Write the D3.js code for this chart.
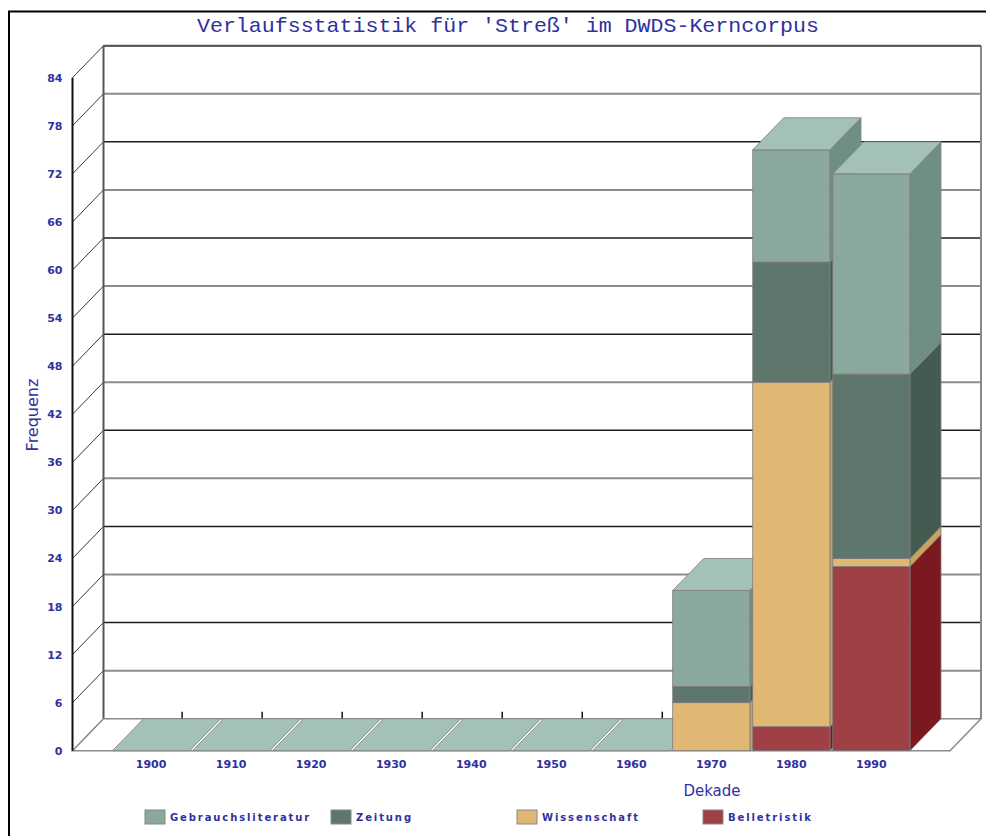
<!DOCTYPE html>
<html>
<head>
<meta charset="utf-8">
<script src="https://cdn.jsdelivr.net/npm/d3@7/dist/d3.min.js"></script>
<style>
  html, body { margin: 0; padding: 0; background: #fff; }
  svg { display: block; }
</style>
</head>
<body>
<svg id="chart" width="986" height="836"></svg>
<script>
// Decades on the x axis
const decades = ["1900", "1910", "1920", "1930", "1940", "1950", "1960", "1970", "1980", "1990"];

// Frequencies per text genre, stacked bottom to top
const belletristik       = [0, 0, 0, 0, 0, 0, 0, 0, 3, 23];
const wissenschaft       = [0, 0, 0, 0, 0, 0, 0, 6, 43, 1];
const zeitung            = [0, 0, 0, 0, 0, 0, 0, 2, 15, 23];
const gebrauchsliteratur = [0, 0, 0, 0, 0, 0, 0, 12, 14, 25];

// Y axis tick labels
const yTicks = [0, 6, 12, 18, 24, 30, 36, 42, 48, 54, 60, 66, 72, 78, 84];

const seriesNames = ["Belletristik", "Wissenschaft", "Zeitung", "Gebrauchsliteratur"];
const seriesValues = [belletristik, wissenschaft, zeitung, gebrauchsliteratur];
const legendOrder = ["Gebrauchsliteratur", "Zeitung", "Wissenschaft", "Belletristik"];

const colors = {
  Gebrauchsliteratur: { front: "#8aa89c", side: "#6f8f82", top: "#a3c1b6" },
  Zeitung:            { front: "#5e766c", side: "#445b51", top: "#7d958b" },
  Wissenschaft:       { front: "#e0b874", side: "#c9a262", top: "#ecd09a" },
  Belletristik:       { front: "#9e4045", side: "#7a1a20", top: "#b86065" }
};

const textBlue = "#30309f";
const DX = 31, DY = 32;          // depth of the 3D projection
const svg = d3.select("#chart");

const y = d3.scaleLinear().domain([0, 84]).range([750.7, 77.7]);
const x = d3.scaleBand().domain(decades).range([72.5, 950])
  .paddingOuter(0.5).paddingInner(0.035);
const xLeft = x.range()[0], xRight = x.range()[1];
const y0 = y(0), yTop = y(84);
const bw = x.bandwidth();

// outer frame
svg.append("path").attr("d", `M9,836 V11.5 H986`)
  .attr("fill", "none").attr("stroke", "#000").attr("stroke-width", 2);

// title
svg.append("text").attr("x", 508).attr("y", 32)
  .attr("text-anchor", "middle")
  .attr("font-family", "'Liberation Mono', 'DejaVu Sans Mono', monospace")
  .attr("font-size", 21).attr("fill", textBlue)
  .attr("textLength", 622).attr("lengthAdjust", "spacingAndGlyphs")
  .text("Verlaufsstatistik für 'Streß' im DWDS-Kerncorpus");

// back wall
const walls = svg.append("g");
walls.append("rect")
  .attr("x", xLeft + DX).attr("y", yTop - DY)
  .attr("width", xRight - xLeft).attr("height", y0 - yTop)
  .attr("fill", "#fff");

// horizontal grid lines on the back wall and diagonals on the side wall
yTicks.forEach(v => {
  const yy = y(v);
  const dark = (v / 6) % 2 === 0;
  walls.append("line")
    .attr("x1", xLeft + DX).attr("x2", xRight + DX)
    .attr("y1", yy - DY).attr("y2", yy - DY)
    .attr("stroke", dark ? "#1e1e1e" : "#8c8c8c")
    .attr("stroke-width", dark ? 1.5 : 2);
  walls.append("line")
    .attr("x1", xLeft).attr("y1", yy)
    .attr("x2", xLeft + DX).attr("y2", yy - DY)
    .attr("stroke", "#3a3a3a").attr("stroke-width", 1);
});

// wall edges
walls.append("line")
  .attr("x1", xLeft + DX).attr("x2", xLeft + DX)
  .attr("y1", yTop - DY).attr("y2", y0 - DY)
  .attr("stroke", "#555").attr("stroke-width", 2);
walls.append("line")
  .attr("x1", xRight + DX).attr("x2", xRight + DX)
  .attr("y1", yTop - DY).attr("y2", y0 - DY)
  .attr("stroke", "#8a8a8a").attr("stroke-width", 2);
walls.append("line")
  .attr("x1", xLeft + DX).attr("x2", xRight + DX)
  .attr("y1", yTop - DY).attr("y2", yTop - DY)
  .attr("stroke", "#555").attr("stroke-width", 2);

// floor
walls.append("polygon")
  .attr("points", [[xLeft, y0], [xLeft + DX, y0 - DY], [xRight + DX, y0 - DY], [xRight, y0]].join(" "))
  .attr("fill", "#fff").attr("stroke", "#8a8a8a").attr("stroke-width", 1.5);

// category ticks on the back edge of the floor
decades.forEach(d => {
  const cx = x(d) + bw / 2 + DX;
  walls.append("line")
    .attr("x1", cx).attr("x2", cx)
    .attr("y1", y0 - DY).attr("y2", y0 - DY - 7)
    .attr("stroke", "#111").attr("stroke-width", 1.5);
});

// front value axis line
walls.append("line")
  .attr("x1", xLeft).attr("x2", xLeft)
  .attr("y1", yTop).attr("y2", y0)
  .attr("stroke", "#111").attr("stroke-width", 2);

// stacked 3D bars
const outline = "#7c7c7c";
const bars = svg.append("g");
decades.forEach((d, i) => {
  const x0 = x(d), x1 = x0 + bw;
  let base = 0;
  seriesNames.forEach((name, s) => {
    const v = seriesValues[s][i];
    if (v <= 0) return;
    const yb = y(base), yt = y(base + v);
    bars.append("polygon")
      .attr("points", [[x1, yb], [x1, yt], [x1 + DX, yt - DY], [x1 + DX, yb - DY]].join(" "))
      .attr("fill", colors[name].side).attr("stroke", outline).attr("stroke-width", 0.8);
    bars.append("rect")
      .attr("x", x0).attr("y", yt).attr("width", bw).attr("height", yb - yt)
      .attr("fill", colors[name].front).attr("stroke", outline).attr("stroke-width", 0.8);
    base += v;
  });
  const yt = y(base);
  const topName = seriesNames[seriesNames.length - 1];
  bars.append("polygon")
    .attr("points", [[x0, yt], [x1, yt], [x1 + DX, yt - DY], [x0 + DX, yt - DY]].join(" "))
    .attr("fill", colors[topName].top).attr("stroke", outline).attr("stroke-width", 0.8);
});

// axis labels
const yAxis = svg.append("g").attr("transform", `translate(${xLeft},0)`)
  .call(d3.axisLeft(y).tickValues(yTicks).tickSize(0).tickPadding(10));
yAxis.select(".domain").remove();
yAxis.selectAll("text")
  .attr("font-family", "'DejaVu Sans', sans-serif").attr("font-weight", "bold")
  .attr("font-size", 11).attr("fill", textBlue);

const xAxis = svg.append("g").attr("transform", `translate(0,${y0})`)
  .call(d3.axisBottom(x).tickSize(0).tickPadding(10));
xAxis.select(".domain").remove();
xAxis.selectAll("text")
  .attr("font-family", "'DejaVu Sans', sans-serif").attr("font-weight", "bold")
  .attr("font-size", 11).attr("fill", textBlue);

// axis titles
svg.append("text").attr("x", 712).attr("y", 796)
  .attr("text-anchor", "middle")
  .attr("font-family", "'DejaVu Sans', sans-serif").attr("font-size", 15)
  .attr("fill", textBlue).text("Dekade");
svg.append("text")
  .attr("transform", "translate(38,415) rotate(-90)")
  .attr("text-anchor", "middle")
  .attr("font-family", "'DejaVu Sans', sans-serif").attr("font-size", 16)
  .attr("fill", textBlue).text("Frequenz");

// legend
const legend = svg.append("g").attr("transform", "translate(145,810)");
legendOrder.forEach((name, k) => {
  const g = legend.append("g").attr("transform", `translate(${k * 186},0)`);
  g.append("rect").attr("width", 20).attr("height", 14)
    .attr("fill", colors[name].front).attr("stroke", "#888").attr("stroke-width", 1);
  g.append("text").attr("x", 25).attr("y", 11)
    .attr("font-family", "'DejaVu Sans', sans-serif").attr("font-weight", "bold")
    .attr("font-size", 10).attr("letter-spacing", 1.9)
    .attr("fill", textBlue).text(name);
});
</script>
</body>
</html>
